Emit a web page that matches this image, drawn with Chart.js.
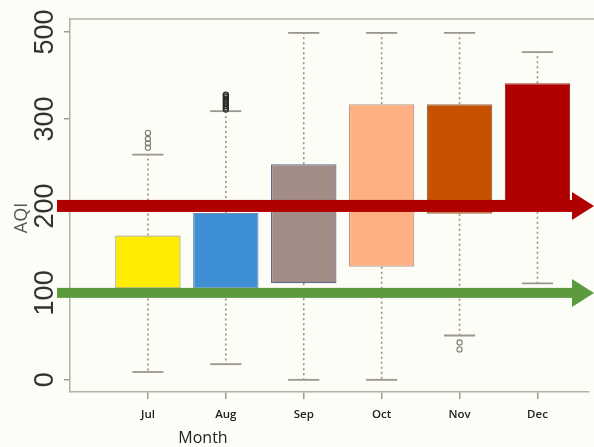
<!DOCTYPE html>
<html>
<head>
<meta charset="utf-8">
<script src="https://cdn.jsdelivr.net/npm/chart.js@4"></script>
<style>
  html, body { margin: 0; padding: 0; background: #fdfdf8; }
  #wrap { width: 594px; height: 447px; }
</style>
</head>
<body>
<div id="wrap"><canvas id="aqi"></canvas></div>
<script>
// months on the x axis (positions 1..6)
const months = ['Jul', 'Aug', 'Sep', 'Oct', 'Nov', 'Dec'];
// box statistics in axis units
const q1 = [105, 105, 111, 130, 191, 199];
const q3 = [166, 192, 248, 317, 317, 341];
const whiskerLow = [9, 18, 0, 0, 51, 111];
const whiskerHigh = [259, 309, 399, 399, 399, 377];
const boxColors = ['#ffec00', '#3f8fd4', '#a28c86', '#ffb083', '#c65200', '#b00000'];
const boxBorders = ['#a8a480', '#6a8cae', '#5d6a86', '#b89a88', '#9a6a50', '#a03030'];
// outliers [month index, value]
const outlierMonth = [1, 1, 1, 1, 2, 2, 2, 2, 2, 2, 2, 2, 2, 2, 5, 5];
const outlierValue = [267, 272, 277, 284, 311, 313, 315, 317, 319, 321, 323, 325, 327, 328, 43, 35];
// y ticks and their printed labels
const yTicks = [0, 100, 200, 300, 400];
const yTickLabels = ['0', '100', '200', '300', '500'];
// reference arrows
const arrowLevels = [200, 100];
const arrowColors = ['#b00000', '#5b9b3d'];

const boxData = months.map((m, i) => ({ x: i + 1, y: [q1[i], q3[i]] }));
const outlierData = outlierMonth.map((m, i) => ({ x: m, y: outlierValue[i] }));

const overlay = {
  id: 'overlay',
  beforeDatasetsDraw(chart) {
    const { ctx, chartArea, scales: { x, y } } = chart;
    ctx.save();
    // top frame line
    ctx.strokeStyle = '#b8b0a6';
    ctx.lineWidth = 1.5;
    ctx.beginPath();
    ctx.moveTo(chartArea.left, chartArea.top);
    ctx.lineTo(chart.width, chartArea.top);
    ctx.stroke();
    // whiskers
    months.forEach((m, i) => {
      const cx = x.getPixelForValue(i + 1);
      ctx.strokeStyle = '#a48c74';
      ctx.lineWidth = 1.6;
      ctx.setLineDash([2, 3]);
      ctx.beginPath();
      ctx.moveTo(cx, y.getPixelForValue(q3[i]));
      ctx.lineTo(cx, y.getPixelForValue(whiskerHigh[i]));
      ctx.moveTo(cx, y.getPixelForValue(q1[i]));
      ctx.lineTo(cx, y.getPixelForValue(whiskerLow[i]));
      ctx.stroke();
      ctx.setLineDash([]);
      ctx.strokeStyle = '#9c968c';
      ctx.lineWidth = 1.8;
      const l = x.getPixelForValue(i + 1 - 0.2);
      const r = x.getPixelForValue(i + 1 + 0.2);
      [whiskerHigh[i], whiskerLow[i]].forEach(v => {
        const py = y.getPixelForValue(v);
        ctx.beginPath();
        ctx.moveTo(l, py);
        ctx.lineTo(r, py);
        ctx.stroke();
      });
    });
    ctx.restore();
  },
  afterDraw(chart) {
    const { ctx, chartArea, scales: { y, x } } = chart;
    ctx.save();
    // arrows
    const tip = chart.width;
    arrowLevels.forEach((v, i) => {
      const py = y.getPixelForValue(v);
      const half = i === 0 ? 6 : 5;
      const headX = tip - 22;
      ctx.fillStyle = arrowColors[i];
      ctx.fillRect(chartArea.left - 13, py - half, headX - chartArea.left + 14, half * 2);
      ctx.beginPath();
      ctx.moveTo(headX, py - 14);
      ctx.lineTo(tip, py);
      ctx.lineTo(headX, py + 14);
      ctx.closePath();
      ctx.fill();
    });
    // y tick labels, rotated
    ctx.fillStyle = '#333';
    ctx.font = '27px "Liberation Sans", "DejaVu Sans", sans-serif';
    ctx.textAlign = 'center';
    ctx.textBaseline = 'middle';
    yTicks.forEach((v, i) => {
      ctx.save();
      ctx.translate(46, y.getPixelForValue(v));
      ctx.rotate(-Math.PI / 2);
      ctx.fillText(yTickLabels[i], 0, 0);
      ctx.restore();
    });
    // y title
    ctx.save();
    ctx.fillStyle = '#555';
    ctx.font = '18px "Open Sans", "DejaVu Sans", sans-serif';
    ctx.translate(22, 218);
    ctx.rotate(-Math.PI / 2);
    ctx.fillText('AQI', 0, 0);
    ctx.restore();
    // x tick labels
    ctx.fillStyle = '#222';
    ctx.font = '600 11.5px "Open Sans", "DejaVu Sans", sans-serif';
    months.forEach((m, i) => {
      ctx.fillText(m, x.getPixelForValue(i + 1), 415);
    });
    // x title
    ctx.font = '16px "Open Sans", "DejaVu Sans", sans-serif';
    ctx.fillStyle = '#222';
    ctx.fillText('Month', 203, 438);
    ctx.restore();
  }
};

new Chart(document.getElementById('aqi'), {
  type: 'bar',
  data: {
    datasets: [
      {
        type: 'scatter',
        data: outlierData,
        pointStyle: 'circle',
        pointRadius: 2.6,
        borderColor: c => outlierMonth[c.dataIndex] === 2 ? '#2a2a2a' : '#7e7a72',
        borderWidth: 1.1,
        backgroundColor: 'rgba(0,0,0,0)',
        order: 0
      },
      {
        data: boxData,
        backgroundColor: boxColors,
        borderColor: boxBorders,
        borderWidth: 1.2,
        borderSkipped: false,
        categoryPercentage: 1,
        barPercentage: 0.84,
        order: 1
      }
    ]
  },
  options: {
    responsive: true,
    maintainAspectRatio: false,
    animation: false,
    layout: { padding: { left: 64, top: 19, right: 0, bottom: 48 } },
    plugins: { legend: { display: false }, tooltip: { enabled: false } },
    scales: {
      x: {
        type: 'linear',
        min: 0,
        max: 6.66,
        offset: false,
        afterBuildTicks: axis => { axis.ticks = months.map((m, i) => ({ value: i + 1 })); },
        ticks: { display: false },
        grid: { offset: false, drawOnChartArea: false, tickLength: 7, color: '#a09a90', lineWidth: 1.5 },
        border: { color: '#b8b0a6', width: 1.5 }
      },
      y: {
        min: -14,
        max: 415,
        afterBuildTicks: axis => { axis.ticks = yTicks.map(v => ({ value: v })); },
        ticks: { display: false },
        grid: { drawOnChartArea: false, tickLength: 6, color: '#a09a90', lineWidth: 1.5 },
        border: { color: '#b8b0a6', width: 1.5 }
      }
    }
  },
  plugins: [overlay]
});
</script>
</body>
</html>
